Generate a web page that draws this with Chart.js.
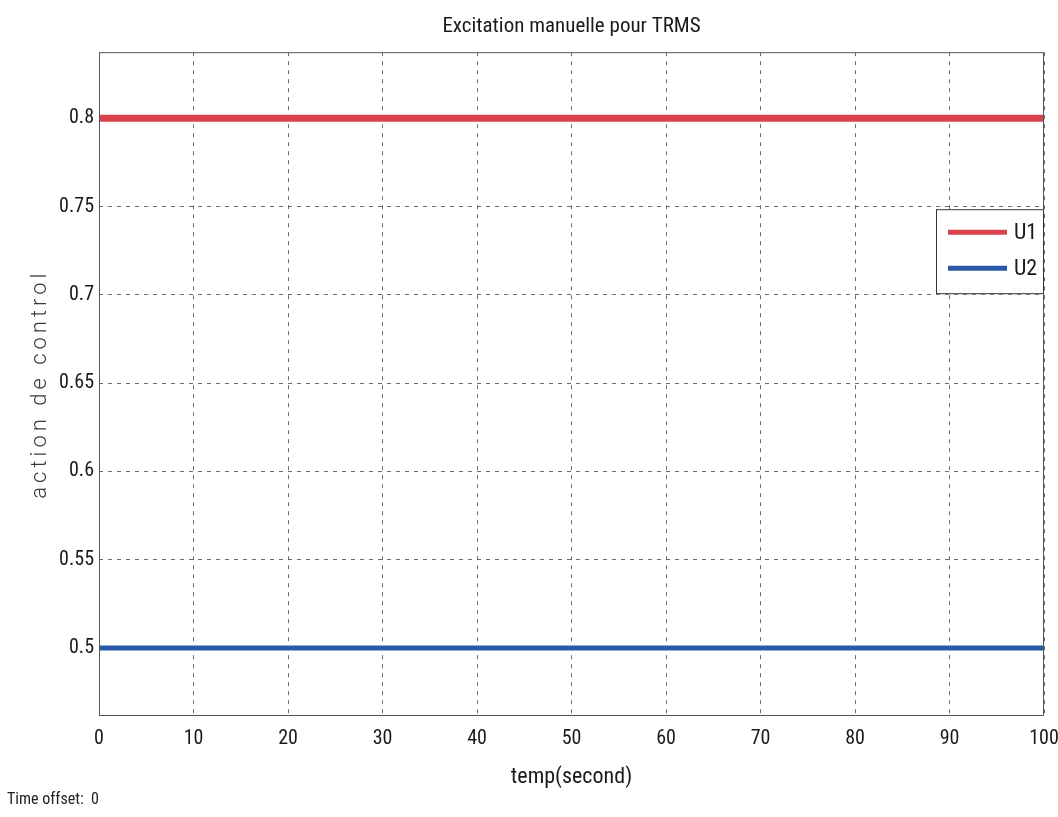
<!DOCTYPE html>
<html>
<head>
<meta charset="utf-8">
<script src="https://cdn.jsdelivr.net/npm/chart.js@4/dist/chart.umd.min.js"></script>
<style>
  html, body { margin: 0; padding: 0; background: #ffffff; }
  #wrap { width: 1058px; height: 817px; }
</style>
</head>
<body>
<div id="wrap"><canvas id="c" width="1058" height="817"></canvas></div>
<script>
// ---- data ----
const timeValues = [0, 10, 20, 30, 40, 50, 60, 70, 80, 90, 100];
const u1Values   = [0.8, 0.8, 0.8, 0.8, 0.8, 0.8, 0.8, 0.8, 0.8, 0.8, 0.8];
const u2Values   = [0.5, 0.5, 0.5, 0.5, 0.5, 0.5, 0.5, 0.5, 0.5, 0.5, 0.5];
const seriesLabels = ['U1', 'U2'];
const xTickValues = [0, 10, 20, 30, 40, 50, 60, 70, 80, 90, 100];
const yTickValues = [0.5, 0.55, 0.6, 0.65, 0.7, 0.75, 0.8];
const chartTitle = 'Excitation manuelle pour TRMS';
const xTitle = 'temp(second)';
const yTitle = 'action de control';
const footerText = 'Time offset:  0';

const NARROW = "'Roboto Condensed', 'Liberation Sans', sans-serif";
const RED = '#d9434d';
const BLUE = '#2a5aa8';

const toPoints = (xs, ys) => xs.map((x, i) => ({ x: x, y: ys[i] }));

const frameAndExtras = {
  id: 'frameAndExtras',
  beforeDraw(chart) {
    const s = chart.scales.y;
    if (s && !s._spacedTitle) {
      const orig = s.drawTitle.bind(s);
      s.drawTitle = function () {
        const ctx = this.ctx;
        ctx.save();
        ctx.letterSpacing = '4px';
        orig();
        ctx.restore();
      };
      s._spacedTitle = true;
    }
  },
  afterDraw(chart) {
    const ctx = chart.ctx;
    const ca = chart.chartArea;
    ctx.save();
    // axes frame
    ctx.strokeStyle = '#555555';
    ctx.lineWidth = 1;
    ctx.setLineDash([]);
    ctx.strokeRect(ca.left + 0.5, ca.top + 0.5, ca.right - ca.left - 1, ca.bottom - ca.top - 1);

    // legend box
    const bw = 108, bh = 85;
    const bx = ca.right - bw;
    const by = ca.top + 157;
    ctx.fillStyle = '#ffffff';
    ctx.fillRect(bx, by, bw, bh);
    ctx.strokeStyle = '#333333';
    ctx.strokeRect(bx + 0.5, by + 0.5, bw - 1, bh - 1);
    chart.data.datasets.forEach((ds, i) => {
      const ly = by + 23 + i * 36;
      ctx.strokeStyle = ds.borderColor;
      ctx.lineWidth = 5;
      ctx.beginPath();
      ctx.moveTo(bx + 12, ly);
      ctx.lineTo(bx + 71, ly);
      ctx.stroke();
      ctx.fillStyle = '#1a1a1a';
      ctx.font = '22px ' + NARROW;
      ctx.textBaseline = 'middle';
      ctx.textAlign = 'left';
      ctx.fillText(ds.label, bx + 78, ly + 1);
    });

    // footer text
    ctx.fillStyle = '#222222';
    ctx.font = '16px ' + NARROW;
    ctx.textBaseline = 'middle';
    ctx.textAlign = 'left';
    ctx.fillText(footerText, 7, 800);
    ctx.restore();
  }
};

new Chart(document.getElementById('c'), {
  type: 'line',
  data: {
    datasets: [
      { label: seriesLabels[0], data: toPoints(timeValues, u1Values), borderColor: RED, backgroundColor: RED, borderWidth: 7, pointRadius: 0, tension: 0 },
      { label: seriesLabels[1], data: toPoints(timeValues, u2Values), borderColor: BLUE, backgroundColor: BLUE, borderWidth: 5, pointRadius: 0, tension: 0 }
    ]
  },
  plugins: [frameAndExtras],
  options: {
    responsive: false,
    animation: false,
    devicePixelRatio: 1,
    layout: { padding: { left: 0, right: 14, top: 0, bottom: 0 } },
    plugins: {
      legend: { display: false },
      tooltip: { enabled: false },
      title: {
        display: true,
        text: chartTitle,
        fullSize: false,
        color: '#1a1a1a',
        font: { family: NARROW, size: 21, weight: 'normal', lineHeight: 1.2 },
        padding: { top: 14, bottom: 13 }
      }
    },
    scales: {
      x: {
        type: 'linear',
        min: 0,
        max: 100,
        afterBuildTicks(scale) { scale.ticks = xTickValues.map(v => ({ value: v })); },
        afterFit(scale) { scale.height = 101; scale.paddingLeft = 0; scale.paddingRight = 0; },
        grid: { color: 'rgba(70,70,70,0.8)', lineWidth: 1, drawTicks: false },
        border: { display: false, dash: [4, 5] },
        ticks: { color: '#1a1a1a', padding: 11, maxRotation: 0, font: { family: NARROW, size: 20 } },
        title: { display: true, text: xTitle, color: '#1a1a1a', font: { family: NARROW, size: 22, lineHeight: 1.2 }, padding: { top: 0, bottom: 26 } }
      },
      y: {
        type: 'linear',
        min: 0.4615,
        max: 0.8374,
        afterBuildTicks(scale) { scale.ticks = yTickValues.map(v => ({ value: v })); },
        afterFit(scale) { scale.width = 99; scale.paddingTop = 0; scale.paddingBottom = 0; },
        grid: { color: 'rgba(70,70,70,0.8)', lineWidth: 1, drawTicks: false },
        border: { display: false, dash: [4, 5] },
        ticks: { color: '#1a1a1a', padding: 5, font: { family: NARROW, size: 20 }, callback: v => String(v) },
        title: { display: true, text: yTitle, color: '#3a3a3a', font: { family: "'Roboto', sans-serif", size: 22, weight: 300, lineHeight: 1.2 }, padding: { top: 27, bottom: 0 } }
      }
    }
  }
});
</script>
</body>
</html>
